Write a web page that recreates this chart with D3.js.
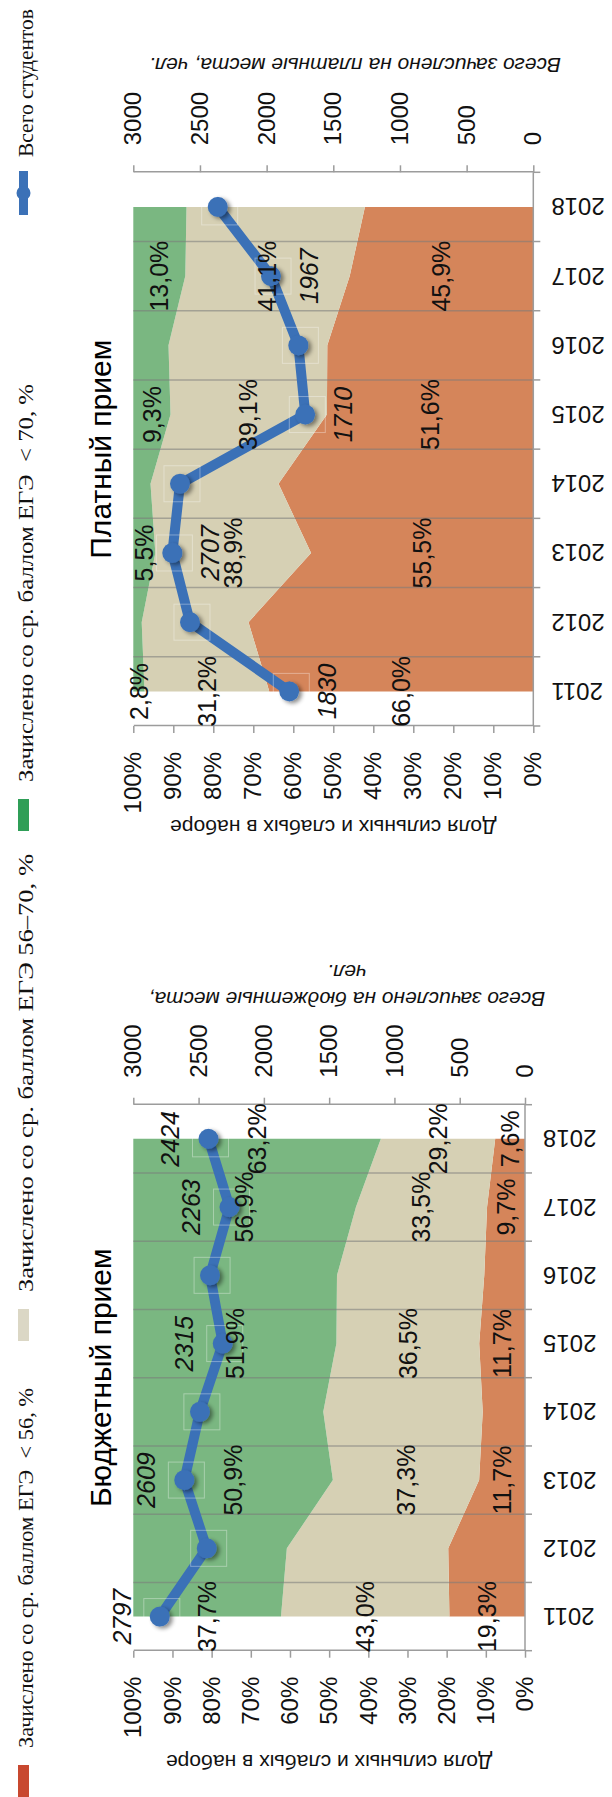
<!DOCTYPE html>
<html><head><meta charset="utf-8">
<script src="https://cdn.jsdelivr.net/npm/d3@7"></script>
<style>body{margin:0;background:#fff}svg{display:block}</style>
</head><body>
<svg id="c" width="612" height="1797"></svg>
<script>
// ---------- DATA ----------
const years = ["2011","2012","2013","2014","2015","2016","2017","2018"];

const budgetLow  = [19.3, 19.6, 11.7, 10.8, 11.7, 10.4, 9.7, 7.6];
const budgetMid  = [43.0, 41.2, 37.3, 40.7, 36.5, 37.6, 33.5, 29.2];
const budgetHigh = [37.7, 39.2, 50.9, 48.5, 51.9, 52.0, 56.9, 63.2];
const budgetTotal = [2797, 2438, 2609, 2490, 2315, 2412, 2263, 2424];
const budgetLabelYears = ["2011","2013","2015","2017","2018"];

const paidLow  = [66.0, 71.2, 55.5, 63.7, 51.6, 51.5, 45.9, 42.1];
const paidMid  = [31.2, 26.7, 38.9, 32.0, 39.1, 39.7, 41.1, 44.6];
const paidHigh = [2.8, 2.1, 5.5, 4.3, 9.3, 8.8, 13.0, 13.3];
const paidTotal = [1830, 2575, 2707, 2650, 1710, 1762, 1967, 2367];
const paidLabelYears = ["2011","2013","2015","2017"];

const pctTicks = [0, 0.1, 0.2, 0.3, 0.4, 0.5, 0.6, 0.7, 0.8, 0.9, 1];
const countTicks = [0, 500, 1000, 1500, 2000, 2500, 3000];

const legendLabels = ["Зачислено со ср. баллом ЕГЭ  < 56, %", "Зачислено со ср. баллом ЕГЭ 56–70, %", "Зачислено со ср. баллом ЕГЭ  < 70, %", "Всего студентов"];
const budgetTitle = "Бюджетный прием";
const paidTitle = "Платный прием";
const pctAxisTitle = "Доля сильных и слабых в наборе";
const budgetCountTitle = ["Всего зачислено на бюджетные места,", "чел."];
const paidCountTitle = ["Всего зачислено на платные места, чел."];

// ---------- STYLE ----------
const areaColors = ["#d5855a", "#d6d0b4", "#7ab781"];
const legendColors = ["#c8482f", "#dbd7c5", "#2f9e57"];
const lineColor = "#3b71b7";
const axisColor = "#9c9c9c";
const sans = "'Liberation Sans', Arial, sans-serif";
const serif = "'Liberation Serif', 'Times New Roman', serif";

const svg = d3.select("#c");
const defs = svg.append("defs");
const f = defs.append("filter").attr("id","sh").attr("x","-50%").attr("y","-50%").attr("width","200%").attr("height","200%");
f.append("feDropShadow").attr("dx",-2).attr("dy",3).attr("stdDeviation",2).attr("flood-color","#000").attr("flood-opacity",0.45);

// chart frame: landscape 1797 x 612, rotated onto the portrait page
const root = svg.append("g").attr("transform","translate(0,1797) rotate(-90)");

const fmtPct = v => v.toFixed(1).replace(".", ",") + "%";

function drawChart(cfg) {
  const g = root.append("g");
  const x = d3.scalePoint().domain(years).range([cfg.x0, cfg.x1]).padding(0.5);
  const step = x.step();
  const yP = d3.scaleLinear().domain([0,1]).range([cfg.yBottom, cfg.yTop]);
  const yC = d3.scaleLinear().domain([0,3000]).range([cfg.yBottom, cfg.yTop]);

  const rows = years.map((yr,i)=>({year:yr, low:cfg.low[i], mid:cfg.mid[i], high:cfg.high[i], total:cfg.total[i]}));
  const series = d3.stack().keys(["low","mid","high"]).offset(d3.stackOffsetExpand)(rows);
  const area = d3.area().x(d=>x(d.data.year)).y0(d=>yP(d[0])).y1(d=>yP(d[1]));
  g.selectAll("path.area").data(series).join("path").attr("class","area")
    .attr("d", area).attr("fill", (d,i)=>areaColors[i]);

  // category boundaries (gridlines + ticks)
  const bounds = d3.range(years.length + 1).map(i => cfg.x0 + i*step);
  g.selectAll("line.grid").data(bounds.slice(1, -1)).join("line").attr("class","grid")
    .attr("x1", d=>d).attr("x2", d=>d).attr("y1", cfg.yTop).attr("y2", cfg.yBottom)
    .attr("stroke", "#7a7a7a").attr("stroke-opacity", 0.55).attr("stroke-width", 1.5);
  g.selectAll("line.ctick").data(bounds).join("line").attr("class","ctick")
    .attr("x1", d=>d).attr("x2", d=>d).attr("y1", cfg.yBottom).attr("y2", cfg.yBottom + 7)
    .attr("stroke", axisColor).attr("stroke-width", 1.5);
  g.append("line").attr("x1", cfg.x0).attr("x2", cfg.x1).attr("y1", cfg.yBottom).attr("y2", cfg.yBottom)
    .attr("stroke", axisColor).attr("stroke-width", 1.5);

  // year labels
  g.selectAll("text.year").data(years).join("text").attr("class","year")
    .attr("transform", d => `translate(${x(d)},${cfg.yBottom + 18}) rotate(-90)`)
    .attr("text-anchor","end").attr("dominant-baseline","central")
    .attr("font-family", sans).attr("font-size", 24).attr("fill","#111").text(d=>d);

  // primary axis (left)
  const ax = g.append("g").attr("transform", `translate(${cfg.x0},0)`)
    .call(d3.axisLeft(yP).tickValues(pctTicks).tickFormat(d3.format(".0%")).tickSize(7).tickSizeOuter(0).tickPadding(19));
  // secondary axis (right)
  const ax2 = g.append("g").attr("transform", `translate(${cfg.x1},0)`)
    .call(d3.axisRight(yC).tickValues(countTicks).tickFormat(d3.format("d")).tickSize(7).tickSizeOuter(0).tickPadding(20));
  [ax, ax2].forEach(a => {
    a.selectAll("path,line").attr("stroke", axisColor).attr("stroke-width", 1.5);
    a.selectAll("text").attr("font-family", sans).attr("font-size", 24).attr("fill", "#111");
  });

  // axis titles
  g.append("text").attr("transform", `translate(${cfg.pctTitleX},${(cfg.yTop+cfg.yBottom)/2}) rotate(-90)`)
    .attr("text-anchor","middle").attr("dominant-baseline","central")
    .attr("font-family", sans).attr("font-size", 21).attr("fill","#111").text(pctAxisTitle);
  cfg.countTitle.forEach((t,i) => {
    g.append("text").attr("transform", `translate(${cfg.countTitleX + i*27},${cfg.countTitleY}) rotate(-90)`)
      .attr("text-anchor","middle").attr("font-style","italic")
      .attr("font-family", sans).attr("font-size", 21).attr("fill","#111").text(t);
  });

  // chart title
  g.append("text").attr("x", (cfg.x0+cfg.x1)/2).attr("y", 111).attr("text-anchor","middle")
    .attr("font-family", sans).attr("font-size", 30).attr("fill","#000").text(cfg.title);

  // line series
  const line = d3.line().x(d=>x(d.year)).y(d=>yC(d.total));
  g.append("path").datum(rows).attr("d", line).attr("fill","none")
    .attr("stroke", lineColor).attr("stroke-width", 10).attr("stroke-linejoin","round").attr("stroke-linecap","round");
  g.selectAll("rect.lbox").data(rows).join("rect").attr("class","lbox")
    .attr("x", d=>x(d.year)-18).attr("y", d=>yC(d.total)-16).attr("width",36).attr("height",36)
    .attr("fill","none").attr("stroke","#ffffff").attr("stroke-opacity",0.35).attr("stroke-width",1);
  g.selectAll("circle.mk").data(rows).join("circle").attr("class","mk")
    .attr("cx", d=>x(d.year)).attr("cy", d=>yC(d.total)).attr("r", 10)
    .attr("fill", lineColor).attr("filter","url(#sh)");

  // labels
  const labeled = rows.filter(r => cfg.labelYears.includes(r.year));
  g.selectAll("text.tot").data(labeled).join("text").attr("class","tot")
    .attr("x", d=>x(d.year)).attr("y", d=>yC(d.total) + cfg.totalOffset).attr("dy","0.35em")
    .attr("text-anchor","middle").attr("font-style","italic")
    .attr("font-family", sans).attr("font-size", 25).attr("fill","#111").text(d=>d.total);
  series.forEach(s => {
    g.selectAll(null).data(s.filter(d => cfg.labelYears.includes(d.data.year))).join("text")
      .attr("x", d=>x(d.data.year)).attr("y", d=>yP((d[0]+d[1])/2)).attr("dy","0.35em")
      .attr("text-anchor","middle").attr("font-family", sans).attr("font-size", 25).attr("fill","#111")
      .text(d => fmtPct(d.data[s.key]));
  });
}

drawChart({x0:146.3, x1:692.3, yTop:133.3, yBottom:525, low:budgetLow, mid:budgetMid, high:budgetHigh,
  total:budgetTotal, labelYears:budgetLabelYears, totalOffset:-38, title:budgetTitle,
  pctTitleX:35, countTitle:budgetCountTitle, countTitleX:805, countTitleY:347});
drawChart({x0:1071, x1:1624.7, yTop:133.3, yBottom:533.3, low:paidLow, mid:paidMid, high:paidHigh,
  total:paidTotal, labelYears:paidLabelYears, totalOffset:38, title:paidTitle,
  pctTitleX:970, countTitle:paidCountTitle, countTitleX:1739, countTitleY:355});

// ---------- LEGEND ----------
const lg = root.append("g");
const legRectX = [0, 456, 966];
const legTextX = [49, 505, 1015];
const legTextW = [360, 438, 398];
legRectX.forEach((rx,i) => {
  lg.append("rect").attr("x", rx).attr("y", 18).attr("width", 32).attr("height", 11).attr("fill", legendColors[i]);
  lg.append("text").attr("x", legTextX[i]).attr("y", 33).attr("font-family", serif).attr("font-size", 21)
    .attr("fill","#111").style("white-space","pre")
    .attr("textLength", legTextW[i]).attr("lengthAdjust","spacingAndGlyphs").text(legendLabels[i]);
});
lg.append("line").attr("x1",1582).attr("x2",1626).attr("y1",23.5).attr("y2",23.5)
  .attr("stroke", lineColor).attr("stroke-width", 9);
lg.append("circle").attr("cx",1604).attr("cy",23.5).attr("r",7).attr("fill", lineColor);
lg.append("text").attr("x", 1640).attr("y", 33).attr("font-family", serif).attr("font-size", 21)
  .attr("fill","#111").attr("textLength",148).attr("lengthAdjust","spacingAndGlyphs").text(legendLabels[3]);
</script>
</body></html>
